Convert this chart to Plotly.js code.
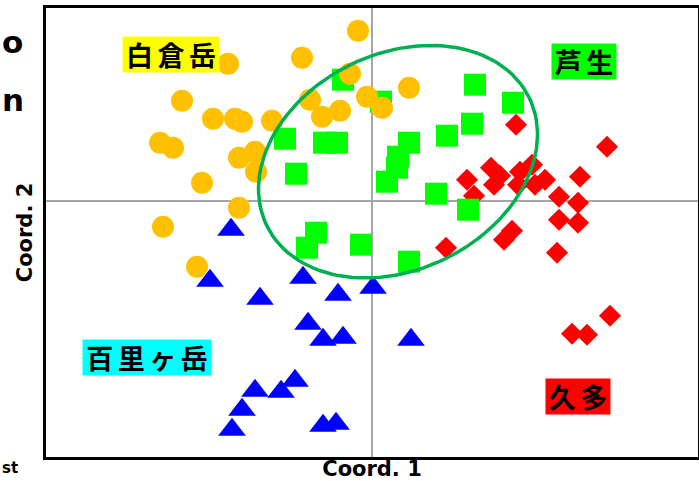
<!DOCTYPE html>
<html><head><meta charset="utf-8">
<script src="https://cdn.plot.ly/plotly-3.0.1.min.js"></script>
<style>html,body{margin:0;padding:0;background:#fff;}#chart{width:699px;height:481px;}</style>
</head><body><div id="chart"></div>
<script>
// Group names
const groupNames = ['白倉岳', '芦生', '百里ヶ岳', '久多'];

// 白倉岳 (orange circles)
const shirakuraX = [-1.90,-1.59,-1.37,-1.30,-1.00,-2.12,-1.99,-1.33,-1.17,-1.16,-1.70,-1.33,-0.70,-0.22,0.37,-0.62,-0.05,0.10,-0.32,-0.50,-0.14,-1.44,-2.09,-1.75];
const shirakuraY = [1.00,0.82,0.82,0.79,0.80,0.58,0.53,0.43,0.49,0.29,0.18,-0.07,1.43,1.27,1.13,1.01,1.04,0.93,0.90,0.84,1.70,1.37,-0.26,-0.66];

// 芦生 (green squares)
const ashiuX = [-0.29,1.03,1.41,0.09,1.00,0.75,-0.87,-0.48,-0.35,0.37,0.26,0.25,-0.76,0.15,0.64,0.96,-0.56,-0.65,-0.11,0.37];
const ashiuY = [1.21,1.16,0.98,0.99,0.77,0.65,0.62,0.58,0.58,0.58,0.44,0.33,0.27,0.19,0.07,-0.09,-0.32,-0.47,-0.44,-0.61];

// 久多 (red diamonds)
const kutaX = [1.44,2.35,0.95,1.02,1.19,1.28,1.22,1.48,1.60,1.46,1.63,1.73,2.08,1.87,2.06,1.87,2.06,1.40,1.32,0.74,1.85,2.38,2.00,2.15];
const kutaY = [0.76,0.54,0.21,0.05,0.33,0.25,0.16,0.29,0.36,0.16,0.16,0.21,0.24,0.04,-0.02,-0.19,-0.22,-0.30,-0.39,-0.47,-0.52,-1.15,-1.33,-1.34];

// 百里ヶ岳 (blue triangles)
const hyakuriX = [-1.41,-1.62,-1.12,-0.69,-0.34,0.01,-0.64,-0.49,-0.29,0.39,-1.17,-0.91,-0.77,-1.30,-1.40,-0.49,-0.36];
const hyakuriY = [-0.29,-0.80,-0.98,-0.77,-0.94,-0.87,-1.23,-1.39,-1.37,-1.39,-1.90,-1.91,-1.80,-2.09,-2.29,-2.25,-2.23];

// 芦生 confidence ellipse parameters
const ellipseCenter = [0.26, 0.39];
const ellipseAxes = [1.46, 1.08];
const ellipseAngleDeg = 26;

const ellX = [], ellY = [];
const th = ellipseAngleDeg * Math.PI / 180;
for (let i = 0; i <= 120; i++) {
  const t = 2 * Math.PI * i / 120;
  const u = ellipseAxes[0] * Math.cos(t), v = ellipseAxes[1] * Math.sin(t);
  ellX.push(ellipseCenter[0] + u * Math.cos(th) - v * Math.sin(th));
  ellY.push(ellipseCenter[1] + u * Math.sin(th) + v * Math.cos(th));
}

const traces = [
  {x: kutaX, y: kutaY, name: groupNames[3], mode: 'markers', type: 'scatter',
   marker: {symbol: 'diamond', size: 17, color: '#FF0000', line: {width: 0}}},
  {x: ashiuX, y: ashiuY, name: groupNames[1], mode: 'markers', type: 'scatter',
   marker: {symbol: 'square', size: 22, color: '#00FF00', line: {width: 0}}},
  {x: shirakuraX, y: shirakuraY, name: groupNames[0], mode: 'markers', type: 'scatter',
   marker: {symbol: 'circle', size: 22, color: '#FFC000', line: {width: 0}}},
  {x: hyakuriX, y: hyakuriY, name: groupNames[2], mode: 'markers', type: 'scatter',
   marker: {symbol: 'triangle-up', size: 24, color: '#0000FF', line: {width: 0}}},
  {x: ellX, y: ellY, mode: 'lines', type: 'scatter', hoverinfo: 'skip',
   line: {color: '#00B050', width: 3.5}}
];

const cjk = {family: '"Noto Sans CJK JP", sans-serif', size: 27, color: '#000', weight: 700};
const sp = '\u2006';
function lbl(text, x, y, bg, w) {
  return {text: text, x: x, y: y, xref: 'x', yref: 'y', showarrow: false,
    bgcolor: bg, width: w, height: 35, borderpad: 0, font: cjk, xanchor: 'center', yanchor: 'middle'};
}
const axisFont = {family: 'DejaVu Sans', size: 21, color: '#000', weight: 700};
const cut = {family: 'DejaVu Sans', size: 31, color: '#000', weight: 700};

const layout = {
  width: 699, height: 481,
  margin: {l: 46, r: 1, t: 8, b: 24},
  paper_bgcolor: '#fff', plot_bgcolor: '#fff',
  showlegend: false,
  xaxis: {range: [-3.26, 3.26], showgrid: false, zeroline: true, zerolinecolor: '#a6a6a6', zerolinewidth: 2,
    showticklabels: false, ticks: '', showline: true, linecolor: '#000', linewidth: 3, mirror: true,
    title: {text: 'Coord. 1', font: axisFont, standoff: 5}},
  yaxis: {range: [-2.563, 1.927], showgrid: false, zeroline: true, zerolinecolor: '#a6a6a6', zerolinewidth: 2,
    showticklabels: false, ticks: '', showline: true, linecolor: '#000', linewidth: 3, mirror: true,
    title: {text: 'Coord. 2', font: axisFont, standoff: 5}},
  annotations: [
    lbl('白' + sp + '倉' + sp + '岳', -2.01, 1.46, '#FFFF00', 96),
    lbl('芦' + sp + '生', 2.12, 1.39, '#00FF00', 64),
    lbl('百' + sp + '里' + sp + 'ヶ' + sp + '岳', -2.25, -1.57, '#00FFFF', 128),
    lbl('久' + sp + '多', 2.06, -1.96, '#FF0000', 64),
    {text: 'o', xref: 'paper', yref: 'paper', x: -0.0706, y: 0.925, xanchor: 'left', yanchor: 'middle', showarrow: false, font: cut},
    {text: 'n', xref: 'paper', yref: 'paper', x: -0.0706, y: 0.795, xanchor: 'left', yanchor: 'middle', showarrow: false, font: cut},
    {text: 'st', xref: 'paper', yref: 'paper', x: -0.0706, y: -0.025, xanchor: 'left', yanchor: 'middle', showarrow: false,
     font: {family: 'DejaVu Sans', size: 15, color: '#000', weight: 700}}
  ]
};

Plotly.newPlot('chart', traces, layout, {staticPlot: true, displayModeBar: false});
</script>
</body></html>
